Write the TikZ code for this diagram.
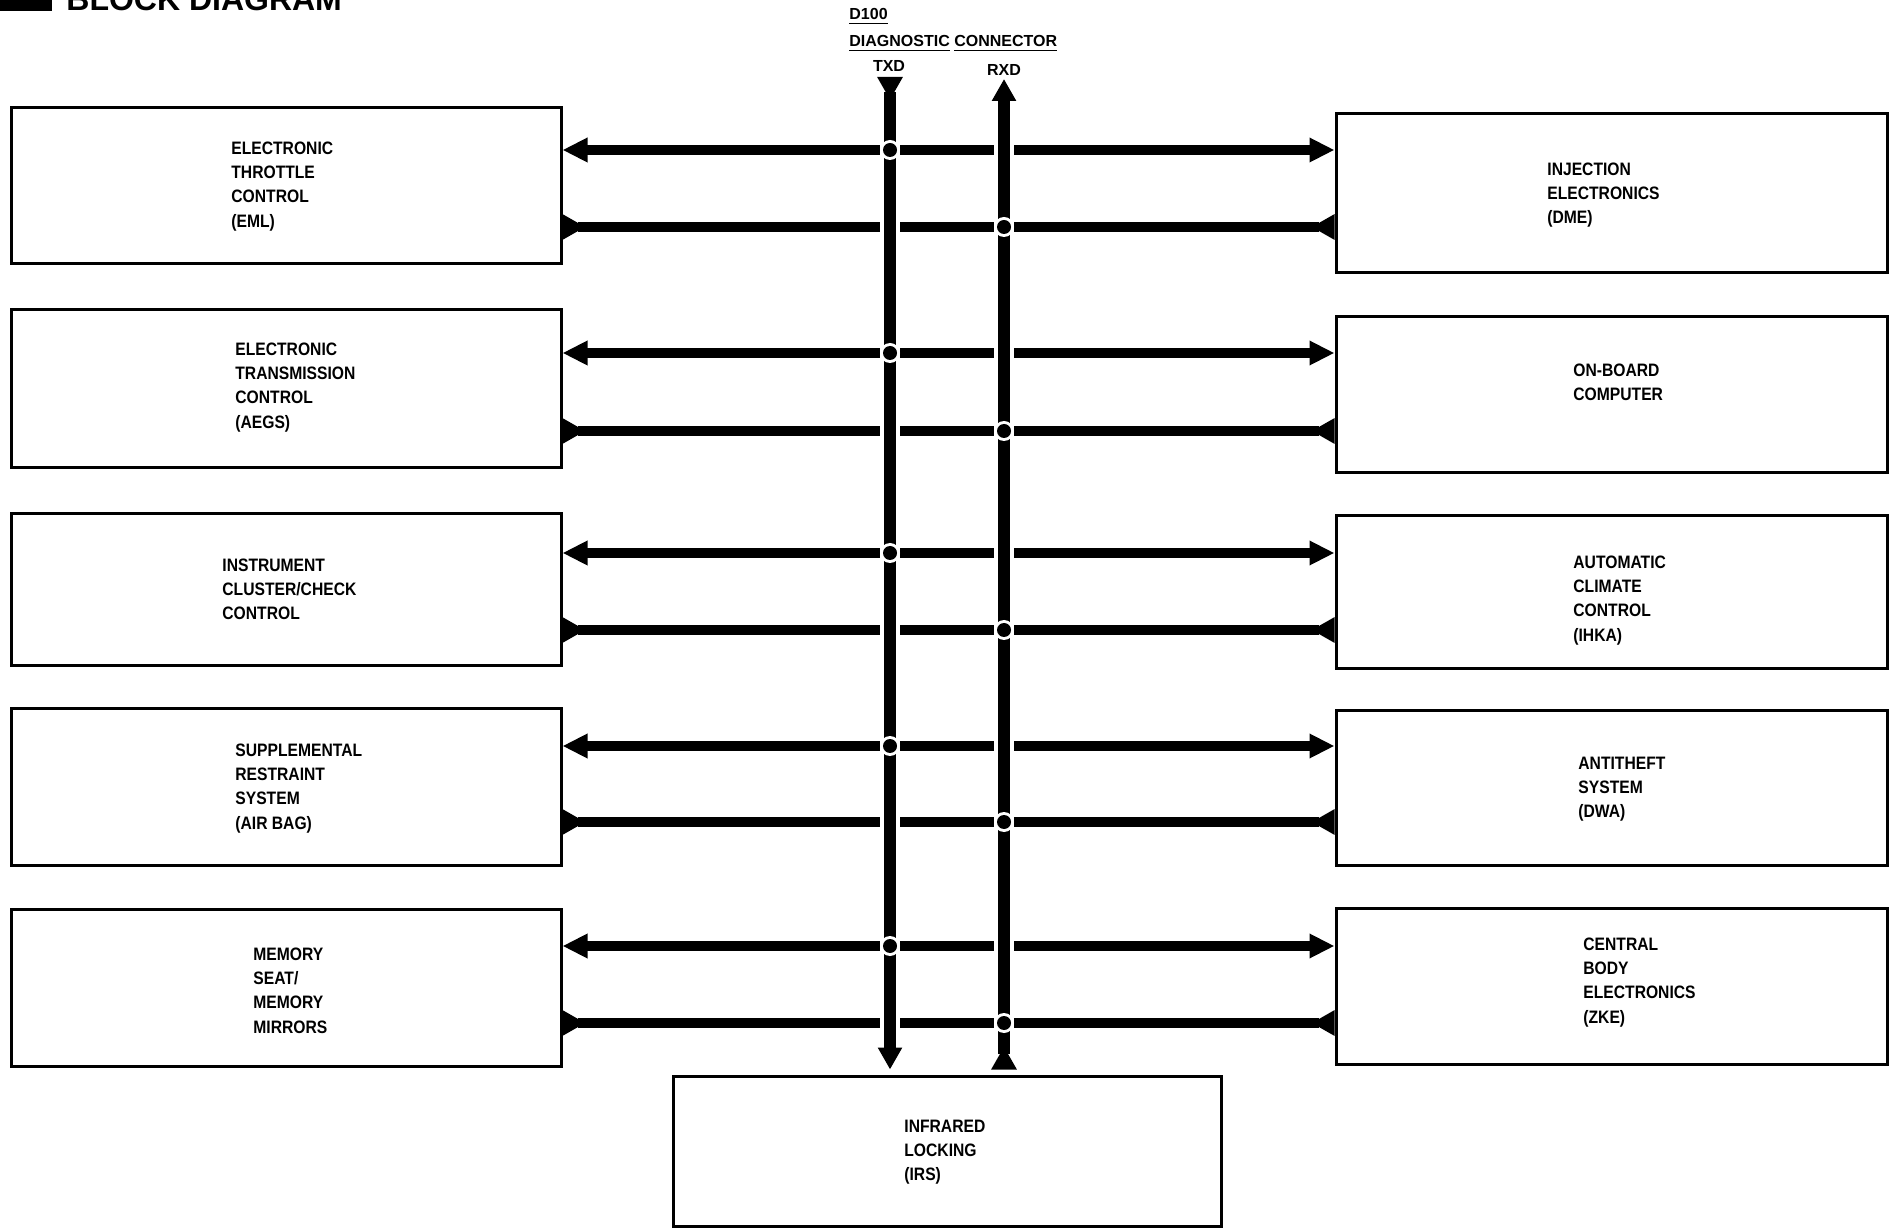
\documentclass[tikz,border=0pt]{standalone}
\usepackage{fontspec}
\setmainfont{Liberation Sans}
\newfontfamily\boxfont[FakeStretch=0.87]{Liberation Sans}
\usetikzlibrary{arrows.meta}
\begin{document}
\begin{tikzpicture}[x=0.5pt,y=-0.5pt,
  box/.style={draw, line width=1.5pt, rectangle, inner sep=0pt},
  lbl/.style={anchor=north west, align=left, inner sep=0pt, font=\boxfont\bfseries\fontsize{9}{12.1}\selectfont},
  hdr/.style={inner sep=0pt, font=\bfseries\fontsize{8}{9.6}\selectfont},
  hbus/.style={line width=5.4pt},
  vbus/.style={line width=6pt},
  halo/.style={preaction={draw=white, line width=9.6pt}},
  biout/.style={{Triangle[length=12.5pt,width=11.5pt]}-{Triangle[length=12.5pt,width=11.5pt]}},
  biin/.style={{Triangle[reversed,length=11.5pt,width=12pt]}-{Triangle[reversed,length=11.5pt,width=12pt]}},
  revfwd/.style={{Triangle[reversed,length=11.5pt,width=12pt]}-{Triangle[length=11pt,width=11.5pt]}}
]
\useasboundingbox (0,0) rectangle (1896,1229);

% title
\fill (0,0) rectangle (52,11);
\node[anchor=base west, inner sep=0pt, font=\bfseries\fontsize{16}{19}\selectfont] (title) at (66,11) {BLOCK DIAGRAM};

% header labels
\node[hdr, anchor=base west] (d100) at (849,20) {\underline{D100}};
\node[hdr, anchor=base west] (diag) at (849,47) {\underline{DIAGNOSTIC}\ \underline{CONNECTOR}};
\node[hdr, anchor=base] (txd) at (889,72) {TXD};
\node[hdr, anchor=base] (rxd) at (1004,76) {RXD};

% left boxes
\node[box, minimum width=275pt, minimum height=78pt] (L1) at (286,186) {};
\node[box, minimum width=275pt, minimum height=79pt] (L2) at (286,389) {};
\node[box, minimum width=275pt, minimum height=76pt] (L3) at (286,590) {};
\node[box, minimum width=275pt, minimum height=78pt] (L4) at (286,787) {};
\node[box, minimum width=275pt, minimum height=78.5pt] (L5) at (286,987.5) {};
% right boxes
\node[box, minimum width=275.5pt, minimum height=79.5pt] (R1) at (1611.5,193.5) {};
\node[box, minimum width=275.5pt, minimum height=78pt] (R2) at (1611.5,395) {};
\node[box, minimum width=275.5pt, minimum height=76.5pt] (R3) at (1611.5,592.5) {};
\node[box, minimum width=275.5pt, minimum height=77pt] (R4) at (1611.5,788) {};
\node[box, minimum width=275.5pt, minimum height=78pt] (R5) at (1611.5,986) {};
% bottom box
\node[box, minimum width=274pt, minimum height=75pt] (IRS) at (947,1151) {};

% texts
\node[lbl] (tL1) at (231,141.5) {ELECTRONIC\\THROTTLE\\CONTROL\\(EML)};
\node[lbl] (tL2) at (235,342.5) {ELECTRONIC\\TRANSMISSION\\CONTROL\\(AEGS)};
\node[lbl] (tL3) at (222,558.5) {INSTRUMENT\\CLUSTER/CHECK\\CONTROL};
\node[lbl] (tL4) at (235,743.5) {SUPPLEMENTAL\\RESTRAINT\\SYSTEM\\(AIR BAG)};
\node[lbl] (tL5) at (253,947.5) {MEMORY\\SEAT/\\MEMORY\\MIRRORS};
\node[lbl] (tR1) at (1547,162.5) {INJECTION\\ELECTRONICS\\(DME)};
\node[lbl] (tR2) at (1573,363.5) {ON-BOARD\\COMPUTER};
\node[lbl] (tR3) at (1573,555.5) {AUTOMATIC\\CLIMATE\\CONTROL\\(IHKA)};
\node[lbl] (tR4) at (1578,756.5) {ANTITHEFT\\SYSTEM\\(DWA)};
\node[lbl] (tR5) at (1583,937.5) {CENTRAL\\BODY\\ELECTRONICS\\(ZKE)};
\node[lbl] (tIRS) at (904,1119.5) {INFRARED\\LOCKING\\(IRS)};

% bus coordinates
\coordinate (txdtop) at (890,77);
\coordinate (rxdtop) at (1004,79);
\coordinate (T1) at (890,150);  \coordinate (X1) at (1004,227);
\coordinate (T2) at (890,353);  \coordinate (X2) at (1004,431);
\coordinate (T3) at (890,553);  \coordinate (X3) at (1004,630);
\coordinate (T4) at (890,746);  \coordinate (X4) at (1004,822);
\coordinate (T5) at (890,946);  \coordinate (X5) at (1004,1023);

% horizontal buses
\foreach \i in {1,...,5}{
  \draw[hbus, biout] (L\i.east |- T\i) -- (R\i.west |- T\i);
  \draw[hbus, biin] (L\i.east |- X\i) -- (R\i.west |- X\i);
}

% vertical buses
\draw[vbus, halo, revfwd, shorten >=2.5pt] (txdtop) -- (IRS.north -| txdtop);
\draw[vbus, halo, revfwd, shorten <=2.5pt] (IRS.north -| rxdtop) -- (rxdtop);

% junction dots (black dot with white ring)
\foreach \i in {1,...,5}{
  \fill[white] (T\i) circle (5pt);
  \fill[black] (T\i) circle (3.5pt);
  \fill[white] (X\i) circle (5pt);
  \fill[black] (X\i) circle (3.5pt);
}
\end{tikzpicture}
\end{document}
